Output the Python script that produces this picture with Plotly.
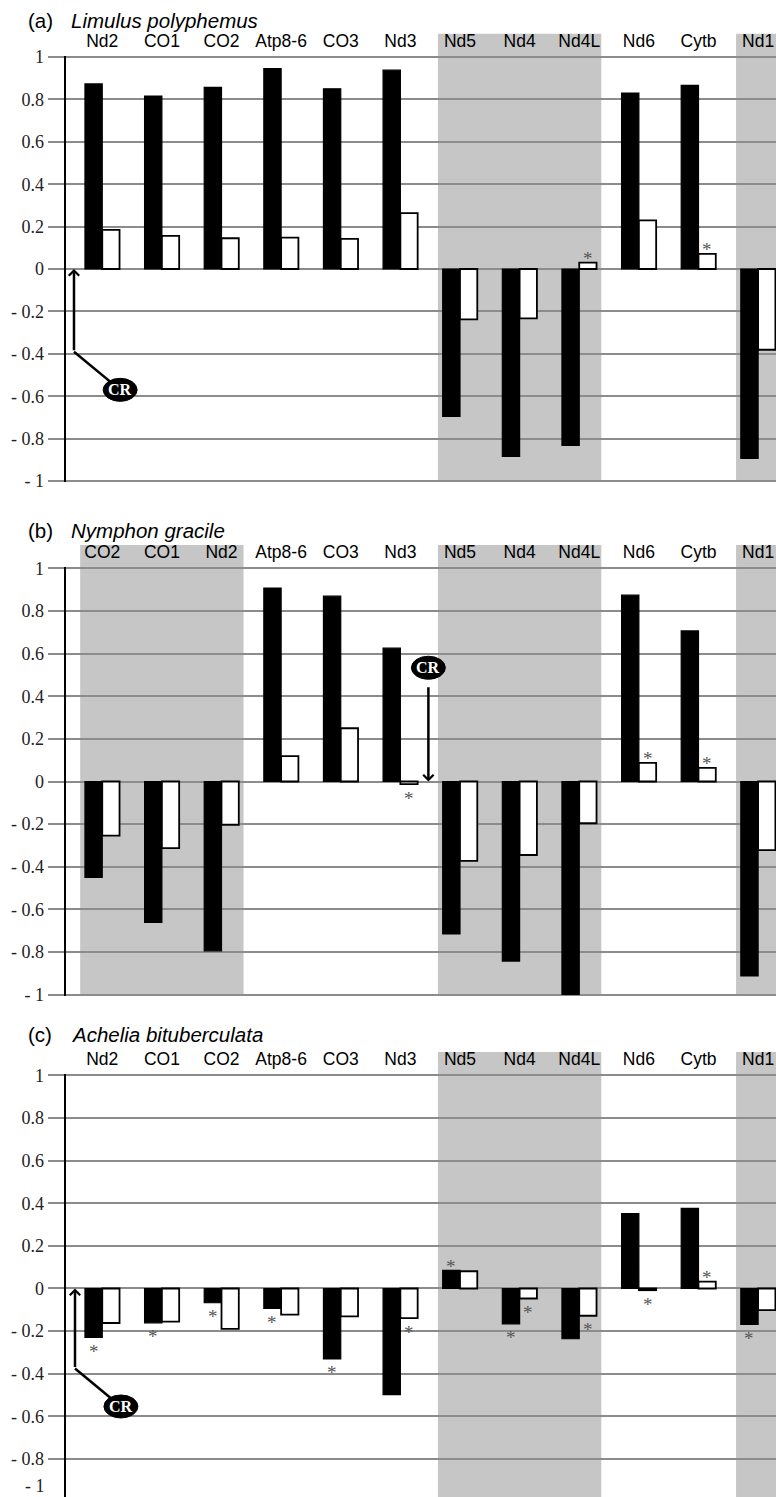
import plotly.graph_objects as go

# ---------------- data ----------------
genes_a = ["Nd2", "CO1", "CO2", "Atp8-6", "CO3", "Nd3", "Nd5", "Nd4", "Nd4L", "Nd6", "Cytb", "Nd1"]
black_a = [0.873, 0.816, 0.857, 0.945, 0.850, 0.938, -0.695, -0.884, -0.832, 0.830, 0.866, -0.893]
white_a = [0.185, 0.156, 0.145, 0.148, 0.142, 0.264, -0.238, -0.233, 0.030, 0.229, 0.071, -0.381]

genes_b = ["CO2", "CO1", "Nd2", "Atp8-6", "CO3", "Nd3", "Nd5", "Nd4", "Nd4L", "Nd6", "Cytb", "Nd1"]
black_b = [-0.450, -0.662, -0.795, 0.908, 0.870, 0.626, -0.716, -0.843, -1.000, 0.875, 0.707, -0.913]
white_b = [-0.254, -0.313, -0.203, 0.119, 0.250, -0.012, -0.373, -0.345, -0.196, 0.087, 0.064, -0.322]

genes_c = ["Nd2", "CO1", "CO2", "Atp8-6", "CO3", "Nd3", "Nd5", "Nd4", "Nd4L", "Nd6", "Cytb", "Nd1"]
black_c = [-0.230, -0.161, -0.067, -0.094, -0.331, -0.498, 0.085, -0.166, -0.236, 0.352, 0.376, -0.169]
white_c = [-0.162, -0.156, -0.190, -0.123, -0.131, -0.139, 0.081, -0.047, -0.128, -0.008, 0.032, -0.102]

stars_a = [("Nd4L", "white"), ("Cytb", "white")]
stars_b = [("Nd3", "white"), ("Nd6", "white"), ("Cytb", "white")]
stars_c = [("Nd2", "black"), ("CO1", "black"), ("CO2", "black"), ("Atp8-6", "black"),
           ("CO3", "black"), ("Nd3", "white"), ("Nd5", "black"), ("Nd4", "black"),
           ("Nd4", "white"), ("Nd4L", "white"), ("Nd6", "white"), ("Cytb", "white"),
           ("Nd1", "black")]

bands_a = [("Nd5", "Nd4L"), ("Nd1", "Nd1")]
bands_b = [("CO2", "Nd2"), ("Nd5", "Nd4L"), ("Nd1", "Nd1")]
bands_c = [("Nd5", "Nd4L"), ("Nd1", "Nd1")]

ytick_vals = [1, 0.8, 0.6, 0.4, 0.2, 0, -0.2, -0.4, -0.6, -0.8, -1]
ytick_text = ["1", "0.8", "0.6", "0.4", "0.2", "0", "- 0.2", "- 0.4", "- 0.6", "- 0.8", "- 1"]

panels = [
    dict(letter="(a)", species="Limulus polyphemus", genes=genes_a, black=black_a, white=white_a,
         stars=stars_a, bands=bands_a,
         cr=dict(stem_x=-0.474, start_y=-0.39, tip_y=0.0, lab_x=0.30, lab_y=-0.57, diag=True),
         yrange=[-1.005, 1.005], top_px=57.0, unit=212.0, title_px=20.5),
    dict(letter="(b)", species="Nymphon gracile", genes=genes_b, black=black_b, white=white_b,
         stars=stars_b, bands=bands_b,
         cr=dict(stem_x=5.47, start_y=0.449, tip_y=0.0, lab_x=5.47, lab_y=0.534, diag=False),
         yrange=[-1.005, 1.005], top_px=568.5, unit=213.0, title_px=530.0),
    dict(letter="(c)", species="Achelia bituberculata", genes=genes_c, black=black_c, white=white_c,
         stars=stars_c, bands=bands_c,
         cr=dict(stem_x=-0.457, start_y=-0.376, tip_y=0.0, lab_x=0.313, lab_y=-0.554, diag=True),
         yrange=[-0.979, 1.005], top_px=1075.5, unit=213.0, title_px=1034.0),
]

# ---------------- layout constants ----------------
W, H = 776, 1497
ML = 66
XR = [-0.608, 11.30]
BW = 0.29
BAND_PAD = 0.37
BAND_TOP = 1.11
GRID = "#8c8c8c"
BAND = "#c6c6c6"
SANS = "Liberation Sans"
SERIF = "Liberation Serif"

fig = go.Figure()
layout = dict(width=W, height=H, margin=dict(l=ML, r=0, t=0, b=0, pad=0, autoexpand=False),
              autosize=False,
              paper_bgcolor="white", plot_bgcolor="white", showlegend=False,
              barmode="overlay", shapes=[], annotations=[])

for k, p in enumerate(panels):
    sfx = "" if k == 0 else str(k + 1)
    xa, ya = "x" + sfx, "y" + sfx
    r0, r1 = p["yrange"]
    top = p["top_px"] - (r1 - 1.0) * p["unit"]
    bot = p["top_px"] + (1.0 - r0) * p["unit"]
    dom = [max(0.0, 1 - bot / H), 1 - top / H]
    idx = list(range(len(p["genes"])))
    pos = {g: i for i, g in enumerate(p["genes"])}

    fig.add_trace(go.Bar(x=idx, y=p["black"], width=BW, offset=-BW, xaxis=xa, yaxis=ya,
                         marker=dict(color="black", line=dict(color="black", width=1.2)),
                         hoverinfo="skip"))
    fig.add_trace(go.Bar(x=idx, y=p["white"], width=BW, offset=0, xaxis=xa, yaxis=ya,
                         marker=dict(color="white", line=dict(color="black", width=1.8)),
                         hoverinfo="skip"))

    layout["xaxis" + sfx] = dict(domain=[0, 1], range=XR, anchor=ya, side="top",
                                 tickmode="array", tickvals=idx, ticktext=p["genes"],
                                 showgrid=False, zeroline=False, showline=False,
                                 ticks="outside", ticklen=1, tickcolor="rgba(0,0,0,0)",
                                 tickfont=dict(family=SANS, size=17.5, color="black"),
                                 fixedrange=True, automargin=False)
    layout["yaxis" + sfx] = dict(domain=dom, range=p["yrange"], anchor=xa,
                                 tickmode="array", tickvals=ytick_vals, ticktext=ytick_text,
                                 showgrid=True, gridcolor=GRID, gridwidth=2, zeroline=False,
                                 showline=True, linecolor="black", linewidth=2.5,
                                 ticks="outside", ticklen=16, tickwidth=2, tickcolor=GRID,
                                 tickfont=dict(family=SERIF, size=18, color="#222"),
                                 fixedrange=True, automargin=False)

    # gray bands
    for g0, g1 in p["bands"]:
        layout["shapes"].append(dict(type="rect", xref=xa, yref=ya + " domain",
                                     x0=pos[g0] - BAND_PAD, x1=pos[g1] + BAND_PAD,
                                     y0=(-1 - r0) / (r1 - r0), y1=(BAND_TOP - r0) / (r1 - r0),
                                     fillcolor=BAND, line=dict(width=0), layer="below"))

    # titles
    ty = 1 - p["title_px"] / H
    layout["annotations"].append(dict(xref="paper", yref="paper", x=(26 - ML) / (W - ML), y=ty,
                                      xanchor="left", yanchor="middle", showarrow=False,
                                      text=p["letter"], font=dict(family=SANS, size=20.5, color="black")))
    layout["annotations"].append(dict(xref="paper", yref="paper", x=(69 - ML) / (W - ML), y=ty,
                                      xanchor="left", yanchor="middle", showarrow=False,
                                      text="<i>" + p["species"] + "</i>",
                                      font=dict(family=SANS, size=20.5, color="black")))

    # asterisks
    for g, s in p["stars"]:
        i = pos[g]
        v = p["black"][i] if s == "black" else p["white"][i]
        xo = -BW / 2 if s == "black" else BW / 2
        up = v > 0
        layout["annotations"].append(dict(xref=xa, yref=ya, x=i + xo, y=v, showarrow=False,
                                          text="*", xanchor="center", yanchor="middle",
                                          yshift=4 if up else -14,
                                          font=dict(family=SERIF, size=19, color="#555")))

    # CR marker
    c = p["cr"]
    layout["annotations"].append(dict(xref=xa, yref=ya, x=c["stem_x"], y=c["tip_y"],
                                      axref=xa, ayref=ya, ax=c["stem_x"], ay=c["start_y"],
                                      showarrow=True, arrowhead=4, arrowsize=0.8, arrowwidth=2.5,
                                      arrowcolor="black", standoff=0, startstandoff=0, text=""))
    if c["diag"]:
        layout["shapes"].append(dict(type="line", xref=xa, yref=ya, x0=c["stem_x"], y0=c["start_y"],
                                     x1=c["lab_x"], y1=c["lab_y"],
                                     line=dict(color="black", width=2.5), layer="above"))
    layout["shapes"].append(dict(type="circle", xref=xa, yref=ya, xsizemode="pixel", ysizemode="pixel",
                                 xanchor=c["lab_x"], yanchor=c["lab_y"], x0=-17, x1=17, y0=-11.5, y1=11.5,
                                 fillcolor="black", line=dict(color="black", width=1), layer="above"))
    layout["annotations"].append(dict(xref=xa, yref=ya, x=c["lab_x"], y=c["lab_y"], showarrow=False,
                                      text="<b>CR</b>", xanchor="center", yanchor="middle",
                                      font=dict(family=SERIF, size=16, color="white")))

# the "- 1" label at the very bottom of panel (c)
layout["annotations"].append(dict(xref="paper", yref="paper", x=(47 - ML) / (W - ML), y=1 - 1486 / H,
                                  xanchor="right", yanchor="middle", showarrow=False, text=ytick_text[-1],
                                  font=dict(family=SERIF, size=18, color="#222")))

fig.update_layout(**layout)

page_js = (
    "var de=document.documentElement, bd=document.body;"
    "de.style.margin='0'; de.style.padding='0'; de.style.overflow='hidden'; de.style.background='white';"
    "bd.style.margin='0'; bd.style.padding='0'; bd.style.overflow='hidden';"
    "var gd=document.getElementById('{plot_id}');"
    "gd.style.position='fixed'; gd.style.left='0px'; gd.style.top='0px';"
)
fig.write_html("out.html", config={"displayModeBar": False, "staticPlot": True},
               post_script=page_js)
